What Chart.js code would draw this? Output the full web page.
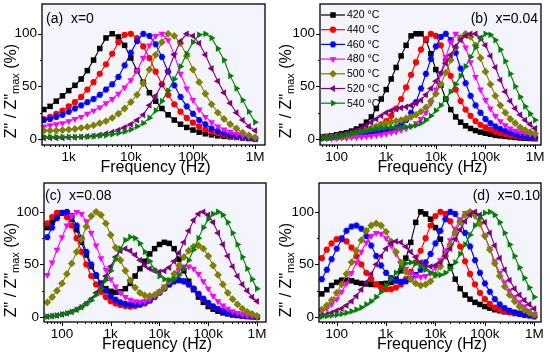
<!DOCTYPE html>
<html>
<head>
<meta charset="utf-8">
<script src="https://cdn.jsdelivr.net/npm/chart.js@4/dist/chart.umd.min.js"></script>
<style>
  html, body { margin: 0; padding: 0; background: #fff; }
  #wrap { position: relative; width: 550px; height: 358px; }
  .panel { position: absolute; width: 275px; height: 179px; }
</style>
</head>
<body>
<div id="wrap">
  <div class="panel" style="left:0;top:0"><canvas id="pa" width="275" height="179"></canvas></div>
  <div class="panel" style="left:275px;top:0"><canvas id="pb" width="275" height="179"></canvas></div>
  <div class="panel" style="left:0;top:179px"><canvas id="pc" width="275" height="179"></canvas></div>
  <div class="panel" style="left:275px;top:179px"><canvas id="pd" width="275" height="179"></canvas></div>
</div>
<script>
// frequencies (Hz)
const freqA = [398, 501, 631, 794, 1000, 1259, 1585, 1995, 2512, 3162, 3981, 5012, 6310, 7943,
  10000, 12589, 15849, 19953, 25119, 31623, 39811, 50119, 63096, 79433,
  100000, 125893, 158489, 199526, 251189, 316228, 398107, 501187, 630957, 794328, 1000000];
const freqB = [50, 63, 79, 100, 126, 158, 200, 251, 316, 398, 501, 631, 794,
  1000, 1259, 1585, 1995, 2512, 3162, 3981, 5012, 6310, 7943,
  10000, 12589, 15849, 19953, 25119, 31623, 39811, 50119, 63096, 79433,
  100000, 125893, 158489, 199526, 251189, 316228, 398107, 501187, 630957, 794328, 1000000];

const tempLabels = ['420 \u00B0C', '440 \u00B0C', '460 \u00B0C', '480 \u00B0C', '500 \u00B0C', '520 \u00B0C', '540 \u00B0C'];
const majorTicks = [100, 1000, 10000, 100000, 1000000];
const majorLabels = ['100', '1k', '10k', '100k', '1M'];
const yTicks = [0, 25, 50, 75, 100];
const yLabels = ['0', '', '50', '', '100'];

// (a) x=0
const a420 = [28,31,36,41,46,51,57,65,75,86, 96,100,97,89,77,65,54,44,36,29, 23,18,14,11,8.5,6.5,5,4,3,2.5, 2,1.5,1,0.5,0];
const a440 = [19,21,24,27,31,35,40,47,54,62, 71,81,92,99,100,96,88,77,64,52, 42,33,26,20,15.5,12,9,7,5.5,4, 3,2,1.5,1,0];
const a460 = [18,19,21,23,26,29,32,35,38,42, 47,52,59,70,82,93,100,98,90,78, 64,51,40,31,24,18,14,10,7.5,5.5, 4,3,2,1,0.5];
const a480 = [12,13,14,15,17,19,21,24,27,30, 34,38,43,49,56,65,77,89,98,100, 94,80,62,48,37,28,21,16,12,9, 7,5,3.5,2,1];
const a500 = [8,8,8,8.5,9,9.5,10.5,11.5,13,15, 17,20,24,29,35,42,53,66,80,92, 100,98,91,79,66,54,43,33,25,19, 14,10,6,3.5,1.5];
const a520 = [1,1,1,1,1.5,1.5,2,2.5,3,4, 5,6.5,8.5,11,14,18,23,32,41,52, 65,80,93,100,98,91,80,67,55,44, 34,25,18,12,8];
const a540 = [2,2,2,2,2,2,2,2,2.5,3, 3.5,4.5,5.5,7,9,12,15,20,27,36, 46,57,69,81,92,99,100,96,86,75, 60,48,37,26,16];

// (b) x=0.04
const b420 = [2,2.5,3,4, 5,6,7.5,9.5,12,16,21,29,38,47, 57,68,79,89,98,100,100,94,81,66, 51,38,28,21,16,12.5,10,8,6.5,5.5, 4.5,3.5,3,2.5,2,1.5,1,0.8,0.5,0.3];
const b440 = [1,1.5,2,2.5, 3,3.5,4,5,6,7.5,9,11,14,17, 22,29,38,49,61,73,85,95,100,98, 89,75,60,47,36,28,22,17,13.5,11, 9,7,5.5,4.5,3.5,3,2.5,2,1.5,1];
const b460 = [1,1,1.5,1.5, 2,2.5,3,3.5,4,4.5,5,6,7,8, 9.5,11,14,18,25,35,48,62,76,88, 97,100,94,82,67,53,41,32,25,19, 15,12,9.5,7.5,6,4.5,3.5,2.5,2,1.5];
const b480 = [0.5,0.5,0.5,1, 1,1,1.5,1.5,2,2.5,3,3.5,4,5, 6,7,8.5,10,12,15,19,25,34,47, 62,78,92,100,97,87,73,59,47,37, 29,22,17,13,10,8,6.5,5.5,4.5,3.5];
const b500 = [1,1.5,2,2.5, 3,4,5,6,7.5,9,10.5,12,13.5,15, 16,17,18,19.5,21,23,26,30,36,43, 52,63,75,87,96,100,97,89,77,64, 52,41,32,25,19,15,11,8.5,6.5,5];
const b520 = [1,1.5,2,3, 4,5,6.5,8,10,13,16,19,22,25, 27,28.5,29.5,30.5,32,34,37,42,48,55, 63,72,80,88,94,98,100,100,96,89, 79,68,56,45,36,29,23,18,14,10];
const b540 = [0.5,1,1.5,2, 3,4,5,6,7,8,9,10,10.5,11, 11,11,11,11.5,12,13,15,18,22,27, 32,38,45,52,60,69,78,87,95,100, 99,94,85,74,62,50,40,31,24,18];

// (c) x=0.08
const c420 = [85,90,96,99, 99,93,83,71,59,48,39,32,27,24.5, 23.5,24,27,32,39,46,53,60,65,69, 71,70,65,55,44,34,26,19,14,10, 7.5,5.5,4,3,2,1.5,1,0.5,0.5,0];
const c440 = [89,95,99,99, 95,87,75,62,50,39,31,24,19,15, 13,11.5,10.5,10,10.5,11.5,13,15.5,19,23, 27,31,34,35,34,31,27,22,17,13, 10,7.5,5.5,4,3,2,1.5,1,0.5,0];
const c460 = [76,85,94,99, 100,96,87,75,62,50,40,32,25,20, 16.5,14,12.5,12,12,12.5,14,16,19.5,23.5, 27.5,31,34,35,34,31,27,22,17.5,13.5, 10,7.5,5.5,4,3,2,1.5,1,0.5,0];
const c480 = [40,52,64,76, 87,96,100,98,91,80,68,56,45,36, 29,23,19,16.5,15,14.5,15,17,20,24, 29,35,40,45,48,48,46,41,34,27, 20,15,11,8,5.5,4,2.5,1.5,1,0];
const c500 = [14,19,25,32, 41,51,62,74,86,96,100,97,89,78, 66,54,44,35,28,23,20.5,20,21,24, 28,34,41,49,57,63,67,68,65,58, 49,40,31,23,17,12,8,5,3,1];
const c520 = [0.5,1,1.5,2.5, 3.5,5,7,9.5,13,17,23,30,39,48, 57,63,65,63,59,54,49,46,44,43, 44,47,53,61,71,82,92,98,100,97, 90,80,69,58,48,39,31,25,19,15];
const c540 = [0.5,1,1.5,2.5, 3.5,5,7,9.5,12.5,16,21,27,35,44, 55,65,73,76,75,70,62,53,45,39, 36,35,36,40,46,54,64,75,85,93, 98,100,97,90,80,69,57,46,36,27];

// (d) x=0.10
const d420 = [22,26,30,33, 35,35,34.5,33,32,31.5,31,31,31.5,32, 33,36,44,56,71,90,100,98,93,85, 74,61,48,36,27,21,17,14,12,10, 8.5,7,6,5,4.5,4,3.5,3,2.5,2];
const d440 = [56,64,70,74, 75,72,66,58,50,42,36,31,28,26.5, 26.5,28,31,36,43,52,63,75,87,96, 100,98,91,80,67,53,41,31,23,17, 12.5,9,7,5.5,4.5,3.5,3,2,1.5,1];
const d460 = [36,45,55,65, 74,82,86,87,84,77,68,58,49,42, 37,34.5,33.5,34,36,40,45,52,60,70, 82,93,100,98,91,80,67,54,42,32, 24,17,12,8.5,6,4.5,3,2,1.5,0.5];
const d480 = [5,8,12,17, 24,32,42,52,62,71,77,80,79,75, 68,60,52,46,42,39,38,39,42,47, 54,63,73,84,93,99,100,96,88,77, 65,53,42,33,25,19,14,10,6,3];
const d500 = [7,11,16,23, 31,41,52,63,73,82,87,89,87,81, 72,62,52,43,36,32,30,31,34,40, 48,58,69,80,90,97,100,97,89,77, 64,51,39,29,21,15,10,6.5,4,2];
const d520 = [1.5,2.5,4,6, 8,11,15,20,26,33,41,50,58,65, 70,72,71,67,62,57,52,49,48,49, 52,58,65,74,83,91,97,100,97,90, 80,68,56,45,35,27,21,16,12,8];
const d540 = [0.5,1,1.5,2, 3,4,5.5,7,9,12,15,19,24,30, 36,42,47,51,52,51,48,45,42,40, 40,42,46,52,60,69,78,87,94,99, 100,97,90,80,69,58,47,37,28,19];

const FONT = "'Liberation Sans', Arial, Helvetica, sans-serif";
Chart.defaults.font.family = FONT;
Chart.defaults.color = '#000';

function hexMarker(color, r) {
  const c = document.createElement('canvas');
  const s = Math.ceil(r * 2) + 1;
  c.width = c.height = s;
  const g = c.getContext('2d');
  g.fillStyle = color;
  g.beginPath();
  for (let k = 0; k < 6; k++) {
    const ang = k * Math.PI / 3;
    g.lineTo(s / 2 + r * Math.cos(ang), s / 2 + r * Math.sin(ang));
  }
  g.closePath();
  g.fill();
  return c;
}
const hexImg = hexMarker('#0000ff', 3.4);

const seriesStyle = [
  { color: '#000000', shape: 'rect', radius: 3.9, rot: 0 },
  { color: '#ff0000', shape: 'circle', radius: 3.1, rot: 0 },
  { color: '#0000ff', shape: 'hex', radius: 3.4, rot: 0 },
  { color: '#ff00ff', shape: 'triangle', radius: 3.9, rot: 180 },
  { color: '#808000', shape: 'rectRot', radius: 3.9, rot: 0 },
  { color: '#800080', shape: 'triangle', radius: 3.9, rot: 270 },
  { color: '#008000', shape: 'triangle', radius: 3.9, rot: 90 }
];

function drawMarker(ctx, st, x, y) {
  ctx.save();
  ctx.translate(x, y);
  ctx.rotate(st.rot * Math.PI / 180);
  ctx.fillStyle = st.color;
  const r = st.radius;
  if (st.shape === 'hex') {
    ctx.drawImage(hexImg, -hexImg.width / 2, -hexImg.height / 2);
  } else {
    ctx.beginPath();
    if (st.shape === 'rect') {
      const s = r * Math.SQRT1_2;
      ctx.rect(-s, -s, 2 * s, 2 * s);
    } else if (st.shape === 'circle') {
      ctx.arc(0, 0, r, 0, Math.PI * 2);
    } else if (st.shape === 'rectRot') {
      ctx.moveTo(0, -r); ctx.lineTo(r, 0); ctx.lineTo(0, r); ctx.lineTo(-r, 0);
    } else {
      for (let k = 0; k < 3; k++) {
        const ang = k * 2 * Math.PI / 3;
        ctx.lineTo(Math.sin(ang) * r, -Math.cos(ang) * r);
      }
    }
    ctx.closePath();
    ctx.fill();
  }
  ctx.restore();
}

function tickList(min, max) {
  const out = [];
  for (let e = 1; e <= 6; e++) {
    for (let m = 1; m <= 9; m++) {
      const v = m * Math.pow(10, e);
      if (v >= min && v <= max) out.push({ value: v });
    }
  }
  return out;
}

const decor = {
  id: 'decor',
  beforeDraw(chart) {
    const { ctx, chartArea: a } = chart;
    ctx.save();
    ctx.fillStyle = '#f4f4fc';
    ctx.fillRect(a.left, a.top, a.right - a.left, a.bottom - a.top);
    ctx.restore();
  },
  afterDraw(chart, args, o) {
    const { ctx, chartArea: a } = chart;
    const xs = chart.scales.x, ys = chart.scales.y;
    ctx.save();
    ctx.strokeStyle = '#000';
    ctx.lineWidth = 1;
    ctx.beginPath();
    xs.ticks.forEach(t => {
      const px = Math.round(xs.getPixelForValue(t.value)) + 0.5;
      const len = majorTicks.includes(t.value) ? 4 : 2;
      ctx.moveTo(px, a.bottom); ctx.lineTo(px, a.bottom + len);
    });
    ys.ticks.forEach(t => {
      const py = Math.round(ys.getPixelForValue(t.value)) + 0.5;
      const len = t.value % 50 === 0 ? 4 : 2;
      ctx.moveTo(a.left, py); ctx.lineTo(a.left - len, py);
    });
    ctx.stroke();
    ctx.lineWidth = 1.3;
    ctx.strokeRect(a.left, a.top, a.right - a.left, a.bottom - a.top);

    ctx.fillStyle = '#000';
    // x title
    ctx.font = '16px ' + FONT;
    ctx.textAlign = 'center';
    ctx.textBaseline = 'alphabetic';
    ctx.fillText('Frequency (Hz)', (a.left + a.right) / 2 + 2, a.bottom + 26.5);

    // y title with subscript
    ctx.save();
    ctx.translate(15.5, a.top + 87);
    ctx.rotate(-Math.PI / 2);
    ctx.textAlign = 'left';
    const big = '16px ' + FONT, small = '11px ' + FONT;
    ctx.font = big;
    const w1 = ctx.measureText('Z" / Z"').width;
    const w3 = ctx.measureText(' (%)').width;
    ctx.font = small;
    const w2 = ctx.measureText('max').width;
    let x0 = -(w1 + w2 + w3) / 2;
    ctx.font = big; ctx.fillText('Z" / Z"', x0, 0);
    ctx.font = small; ctx.fillText('max', x0 + w1, 3);
    ctx.font = big; ctx.fillText(' (%)', x0 + w1 + w2, 0);
    ctx.restore();

    // panel label
    ctx.font = '14px ' + FONT;
    ctx.textAlign = o.labelAlign;
    ctx.fillText(o.label, o.labelX, o.labelY);

    // legend
    if (o.legend) {
      ctx.font = '10.5px ' + FONT;
      ctx.textAlign = 'left';
      ctx.textBaseline = 'middle';
      tempLabels.forEach((lab, i) => {
        const y = 15 + i * 14.7;
        const st = seriesStyle[i];
        ctx.strokeStyle = st.color;
        ctx.lineWidth = 1.2;
        ctx.beginPath(); ctx.moveTo(46, y); ctx.lineTo(70, y); ctx.stroke();
        drawMarker(ctx, st, 58, y);
        ctx.fillStyle = '#000';
        ctx.fillText(lab, 72, y + 0.5);
      });
    }
    ctx.restore();
  }
};

const panels = [
  { id: 'pa', freq: freqA, series: [a420, a440, a460, a480, a500, a520, a540],
    xMin: 371.5, xMax: 1.445e6, yMin: -5.7, yMax: 128.3, yW: 42, padR: 10, padT: 3, xH: 34,
    label: '(a)  x=0', labelAlign: 'left', labelX: 46, labelY: 23, legend: false },
  { id: 'pb', freq: freqB, series: [b420, b440, b460, b480, b500, b520, b540],
    xMin: 46.2, xMax: 1.318e6, yMin: -5.7, yMax: 128.3, yW: 45, padR: 9, padT: 3, xH: 34,
    label: '(b)  x=0.04', labelAlign: 'right', labelX: 263, labelY: 22.5, legend: true },
  { id: 'pc', freq: freqB, series: [c420, c440, c460, c480, c500, c520, c540],
    xMin: 42.8, xMax: 1.53e6, yMin: -4.7, yMax: 127.4, yW: 44, padR: 9, padT: 3, xH: 36,
    label: '(c)  x=0.08', labelAlign: 'left', labelX: 45, labelY: 20.5, legend: false },
  { id: 'pd', freq: freqB, series: [d420, d440, d460, d480, d500, d520, d540],
    xMin: 43.9, xMax: 1.367e6, yMin: -4.7, yMax: 127.4, yW: 44, padR: 9, padT: 3, xH: 36,
    label: '(d)  x=0.10', labelAlign: 'right', labelX: 265, labelY: 20.5, legend: false }
];

panels.forEach(P => {
  const datasets = P.series.map((vals, i) => {
    const st = seriesStyle[i];
    return {
      label: tempLabels[i],
      data: P.freq.map((f, k) => ({ x: f, y: vals[k] })),
      borderColor: st.color,
      backgroundColor: st.color,
      borderWidth: 1.1,
      tension: 0,
      pointStyle: st.shape === 'hex' ? hexImg : st.shape,
      pointRadius: st.radius,
      pointRotation: st.rot,
      pointBackgroundColor: st.color,
      pointBorderColor: st.color,
      pointBorderWidth: 0,
      order: 6 - i
    };
  });

  new Chart(document.getElementById(P.id), {
    type: 'line',
    data: { datasets },
    options: {
      responsive: false,
      animation: false,
      devicePixelRatio: 1,
      layout: { padding: { left: 0, right: P.padR, top: P.padT, bottom: 0 } },
      plugins: {
        legend: { display: false },
        tooltip: { enabled: false },
        decor: { label: P.label, labelAlign: P.labelAlign, labelX: P.labelX, labelY: P.labelY, legend: P.legend }
      },
      scales: {
        x: {
          type: 'logarithmic',
          min: P.xMin,
          max: P.xMax,
          afterBuildTicks: s => { s.ticks = tickList(P.xMin, P.xMax); },
          afterFit: s => { s.height = P.xH; s.paddingLeft = 0; s.paddingRight = 0; },
          border: { display: false },
          grid: { drawOnChartArea: false, drawTicks: true, tickLength: 4, tickColor: 'rgba(0,0,0,0)' },
          ticks: {
            autoSkip: false, maxRotation: 0, padding: 0, color: '#000',
            font: { size: 13.5 },
            callback: v => { const k = majorTicks.indexOf(v); return k >= 0 ? majorLabels[k] : ''; }
          }
        },
        y: {
          min: P.yMin,
          max: P.yMax,
          afterBuildTicks: s => { s.ticks = yTicks.map(v => ({ value: v })); },
          afterFit: s => { s.width = P.yW; s.paddingTop = 0; s.paddingBottom = 0; },
          border: { display: false },
          grid: { drawOnChartArea: false, drawTicks: true, tickLength: 4, tickColor: 'rgba(0,0,0,0)' },
          ticks: {
            padding: 1, color: '#000',
            font: { size: 13.5 },
            callback: v => { const k = yTicks.indexOf(v); return k >= 0 ? yLabels[k] : ''; }
          }
        }
      }
    },
    plugins: [decor]
  });
});
</script>
</body>
</html>
